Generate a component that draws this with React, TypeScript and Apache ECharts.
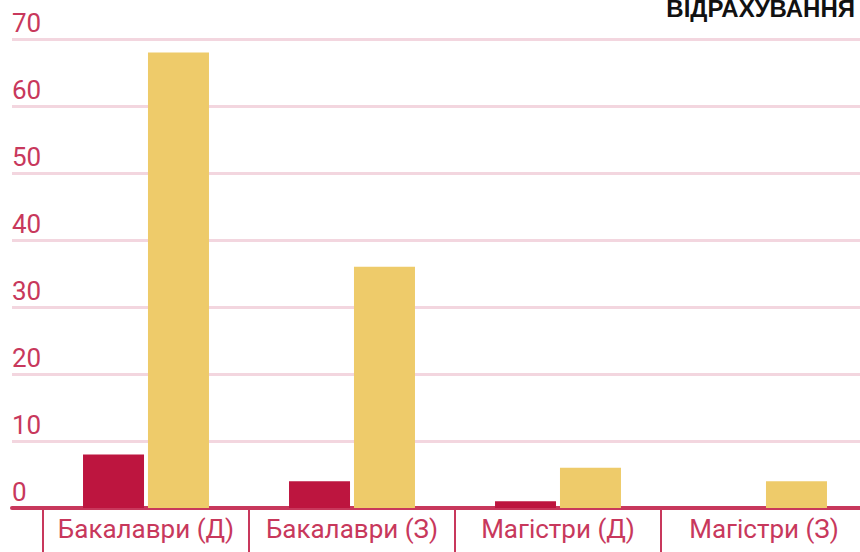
import React, { useEffect, useRef } from "react";
import * as echarts from "echarts";

const categories = ["Бакалаври (Д)", "Бакалаври (З)", "Магістри (Д)", "Магістри (З)"];
const seriesRed = [8, 4, 1, 0];
const seriesYellow = [68, 36, 6, 4];
const titleText = "ВІДРАХУВАННЯ";

const ACCENT = "#C8385C";

export default function App() {
  const ref = useRef<HTMLDivElement>(null);
  useEffect(() => {
    if (!ref.current) return;
    const chart = echarts.init(ref.current, undefined, { renderer: "svg" });
    chart.setOption({
      animation: false,
      backgroundColor: "#ffffff",
      title: {
        text: titleText,
        right: 13,
        top: -4,
        padding: 0,
        textStyle: {
          fontFamily: "Liberation Sans",
          fontWeight: "bold",
          fontSize: 24,
          color: "#111111",
        },
      },
      grid: [
        { left: 43, right: 1, top: 39, bottom: 44 },
        { left: 12, right: 8, top: 39, bottom: 44 },
      ],
      xAxis: [
        {
          type: "category",
          gridIndex: 0,
          data: categories,
          axisLine: { show: false },
          axisTick: {
            show: true,
            interval: 0,
            alignWithLabel: false,
            length: 46,
            lineStyle: { color: ACCENT, width: 2 },
          },
          axisLabel: {
            interval: 0,
            fontFamily: "Roboto",
            fontSize: 26,
            color: ACCENT,
            margin: 8,
          },
        },
        {
          type: "value",
          gridIndex: 1,
          min: 0,
          max: 1,
          axisLine: { show: true, onZero: false, lineStyle: { color: ACCENT, width: 4 } },
          axisTick: { show: false },
          axisLabel: { show: false },
          splitLine: { show: false },
        },
      ],
      yAxis: [
        {
          type: "value",
          gridIndex: 0,
          min: 0,
          max: 70,
          interval: 10,
          axisLine: { show: false },
          axisTick: { show: false },
          axisLabel: { show: false },
          splitLine: { show: false },
        },
        {
          type: "value",
          gridIndex: 1,
          min: 0,
          max: 70,
          interval: 10,
          z: 0,
          axisLine: { show: false },
          axisTick: { show: false },
          axisLabel: {
            inside: true,
            margin: 0,
            verticalAlign: "bottom",
            padding: [0, 0, 3, 0],
            fontFamily: "Roboto",
            fontSize: 26,
            color: ACCENT,
          },
          splitLine: { show: true, lineStyle: { color: "#F3D6DF", width: 3 } },
        },
      ],
      series: [
        {
          type: "bar",
          xAxisIndex: 0,
          yAxisIndex: 0,
          data: seriesRed,
          barWidth: 61,
          barGap: "6.5%",
          itemStyle: { color: "#BD153F" },
        },
        {
          type: "bar",
          xAxisIndex: 0,
          yAxisIndex: 0,
          data: seriesYellow,
          barWidth: 61,
          barGap: "6.5%",
          itemStyle: { color: "#EECB6A" },
        },
      ],
    });
    return () => chart.dispose();
  }, []);
  return (
    <div
      style={{
        position: "fixed",
        left: 0,
        top: 0,
        width: 860,
        height: 552,
        overflow: "hidden",
        background: "#fff",
      }}
    >
      <div ref={ref} style={{ width: 868, height: 552 }} />
    </div>
  );
}
